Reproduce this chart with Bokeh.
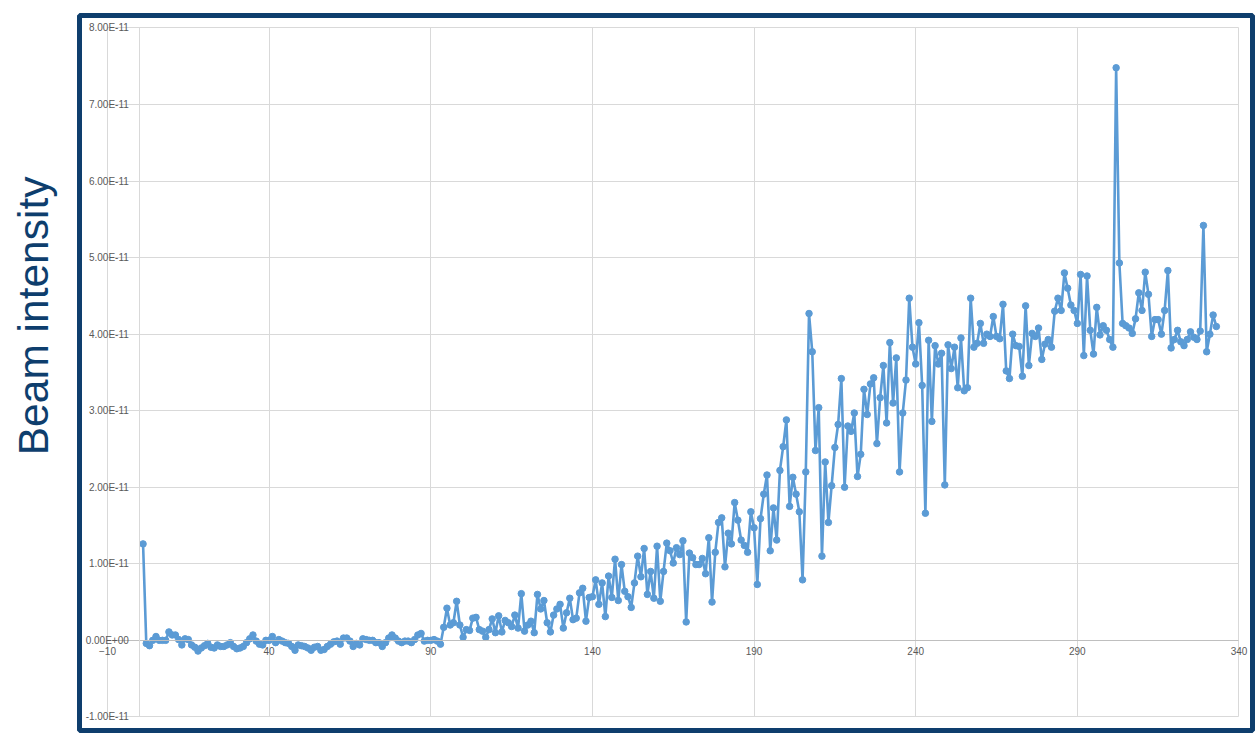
from bokeh.plotting import figure
from bokeh.models import Range1d, LinearAxis, FixedTicker, Grid, Title
from bokeh.embed import file_html
from bokeh.resources import INLINE

# Beam intensity, in units of 1e-11, for each sample index starting at 1
intensity_e11 = [
    1.26, -0.04, -0.07, 0.00, 0.05, 0.00, 0.00, 0.00, 0.11, 0.07,
    0.07, 0.01, -0.06, 0.02, 0.01, -0.06, -0.09, -0.14, -0.10, -0.07,
    -0.04, -0.09, -0.10, -0.06, -0.08, -0.08, -0.06, -0.03, -0.08, -0.11,
    -0.10, -0.08, -0.03, 0.02, 0.07, -0.01, -0.05, -0.06, 0.00, 0.00,
    0.05, -0.03, 0.01, -0.01, -0.03, -0.04, -0.08, -0.13, -0.06, -0.07,
    -0.08, -0.10, -0.13, -0.09, -0.08, -0.13, -0.12, -0.08, -0.05, -0.02,
    -0.01, -0.05, 0.03, 0.03, -0.01, -0.08, -0.04, -0.06, 0.02, 0.01,
    0.00, 0.00, -0.03, -0.03, -0.08, -0.03, 0.03, 0.07, 0.03, -0.01,
    -0.03, -0.01, -0.01, -0.03, 0.01, 0.07, 0.09, -0.01, 0.00, 0.00,
    0.01, -0.01, -0.05, 0.17, 0.42, 0.20, 0.23, 0.51, 0.20, 0.04,
    0.14, 0.13, 0.29, 0.30, 0.14, 0.12, 0.04, 0.14, 0.28, 0.10,
    0.32, 0.11, 0.26, 0.23, 0.18, 0.33, 0.16, 0.61, 0.12, 0.20,
    0.25, 0.10, 0.60, 0.41, 0.52, 0.23, 0.11, 0.33, 0.41, 0.47,
    0.16, 0.36, 0.55, 0.27, 0.29, 0.62, 0.68, 0.25, 0.56, 0.57,
    0.79, 0.47, 0.75, 0.31, 0.84, 0.56, 1.06, 0.52, 0.99, 0.64,
    0.57, 0.43, 0.75, 1.10, 0.83, 1.20, 0.60, 0.90, 0.55, 1.23,
    0.51, 0.90, 1.27, 1.17, 1.01, 1.21, 1.12, 1.30, 0.24, 1.14,
    1.08, 0.99, 0.99, 1.07, 0.87, 1.34, 0.50, 1.15, 1.54, 1.60,
    0.96, 1.40, 1.26, 1.80, 1.57, 1.31, 1.24, 1.15, 1.68, 1.47,
    0.73, 1.59, 1.91, 2.16, 1.17, 1.73, 1.31, 2.22, 2.53, 2.88,
    1.75, 2.13, 1.91, 1.68, 0.79, 2.20, 4.27, 3.77, 2.48, 3.04,
    1.10, 2.33, 1.54, 2.02, 2.52, 2.82, 3.42, 2.00, 2.80, 2.73,
    2.97, 2.14, 2.43, 3.28, 2.95, 3.35, 3.43, 2.57, 3.17, 3.59,
    2.84, 3.89, 3.10, 3.69, 2.20, 2.97, 3.40, 4.47, 3.83, 3.61,
    4.15, 3.33, 1.66, 3.92, 2.86, 3.85, 3.61, 3.75, 2.03, 3.86,
    3.55, 3.83, 3.30, 3.95, 3.26, 3.30, 4.47, 3.83, 3.88, 4.14,
    3.88, 4.00, 3.97, 4.23, 3.97, 3.94, 4.39, 3.52, 3.42, 4.00,
    3.85, 3.84, 3.45, 4.37, 3.59, 4.01, 3.97, 4.08, 3.67, 3.87,
    3.93, 3.83, 4.30, 4.47, 4.31, 4.80, 4.60, 4.38, 4.31, 4.14,
    4.78, 3.72, 4.76, 4.05, 3.74, 4.35, 3.99, 4.11, 4.05, 3.93,
    3.83, 7.48, 4.93, 4.14, 4.11, 4.08, 4.01, 4.20, 4.54, 4.31,
    4.81, 4.52, 3.97, 4.19, 4.19, 4.00, 4.31, 4.83, 3.82, 3.93,
    4.05, 3.90, 3.85, 3.93, 4.03, 3.96, 3.93, 4.04, 5.42, 3.77,
    4.00, 4.25, 4.10,
]
sample_index = list(range(1, len(intensity_e11) + 1))

x_ticks = [-10, 40, 90, 140, 190, 240, 290, 340]
y_ticks_e11 = [-1, 0, 1, 2, 3, 4, 5, 6, 7, 8]
y_tick_labels = ["-1.00E-11", "0.00E+00", "1.00E-11", "2.00E-11", "3.00E-11",
                 "4.00E-11", "5.00E-11", "6.00E-11", "7.00E-11", "8.00E-11"]
y_title = "Beam intensity"

NAVY = "#0e3e6d"
BLUE = "#5b9bd5"
GRID = "#d9d9d9"
TXT = "#595959"
FONT = "Liberation Sans"

W, H = 1255, 736
p = figure(width=W, height=H, output_backend="svg", toolbar_location=None,
           x_range=Range1d(-18.66, 344.18), y_range=Range1d(-1.178, 8.163),
           x_axis_type=None, y_axis_type=None,
           min_border_left=79, min_border_right=3, min_border_top=15, min_border_bottom=6)
p.background_fill_color = "white"
p.border_fill_color = "white"
p.outline_line_color = NAVY
p.outline_line_width = 5

xgrid = Grid(dimension=0, ticker=FixedTicker(ticks=x_ticks),
             bounds=(x_ticks[0], x_ticks[-1]), cross_bounds=(y_ticks_e11[0], y_ticks_e11[-1]),
             grid_line_color=GRID, grid_line_width=1)
ygrid = Grid(dimension=1, ticker=FixedTicker(ticks=y_ticks_e11),
             bounds=(y_ticks_e11[0], y_ticks_e11[-1]), cross_bounds=(x_ticks[0], x_ticks[-1]),
             grid_line_color=GRID, grid_line_width=1)
p.add_layout(xgrid)
p.add_layout(ygrid)

xaxis = LinearAxis(fixed_location=0, bounds=(x_ticks[0], x_ticks[-1]),
                   ticker=FixedTicker(ticks=x_ticks),
                   axis_line_color="#bfbfbf", axis_line_width=1,
                   major_tick_line_color=None, minor_tick_line_color=None,
                   major_tick_in=0, major_tick_out=0,
                   major_label_standoff=7, major_label_text_font_size="10px",
                   major_label_text_color=TXT, major_label_text_font=FONT)
yaxis = LinearAxis(fixed_location=0, bounds=(y_ticks_e11[0], y_ticks_e11[-1]),
                   ticker=FixedTicker(ticks=y_ticks_e11),
                   major_label_overrides={t: s for t, s in zip(y_ticks_e11, y_tick_labels)},
                   axis_line_color=GRID, axis_line_width=1,
                   major_tick_line_color=None, minor_tick_line_color=None,
                   major_tick_in=0, major_tick_out=0,
                   major_label_standoff=11, major_label_text_font_size="10px",
                   major_label_text_color=TXT, major_label_text_font=FONT)
p.add_layout(xaxis, "below")
p.add_layout(yaxis, "left")

p.line(sample_index, intensity_e11, line_color=BLUE, line_width=2.6)
p.scatter(sample_index, intensity_e11, size=6.5, fill_color=BLUE, line_color=BLUE)

# an empty spacer panel between the frame and the vertical title
spacer = Title(text=" ", text_font_size="6px", standoff=9, text_color="white")
p.add_layout(spacer, "left")
title = Title(text=y_title, align="right", offset=161, vertical_align="middle",
              text_baseline="alphabetic", standoff=10,
              text_font_size="42.5px", text_font_style="normal",
              text_color=NAVY, text_font=FONT)
p.add_layout(title, "left")

open("out.html", "w").write(file_html(p, INLINE))
